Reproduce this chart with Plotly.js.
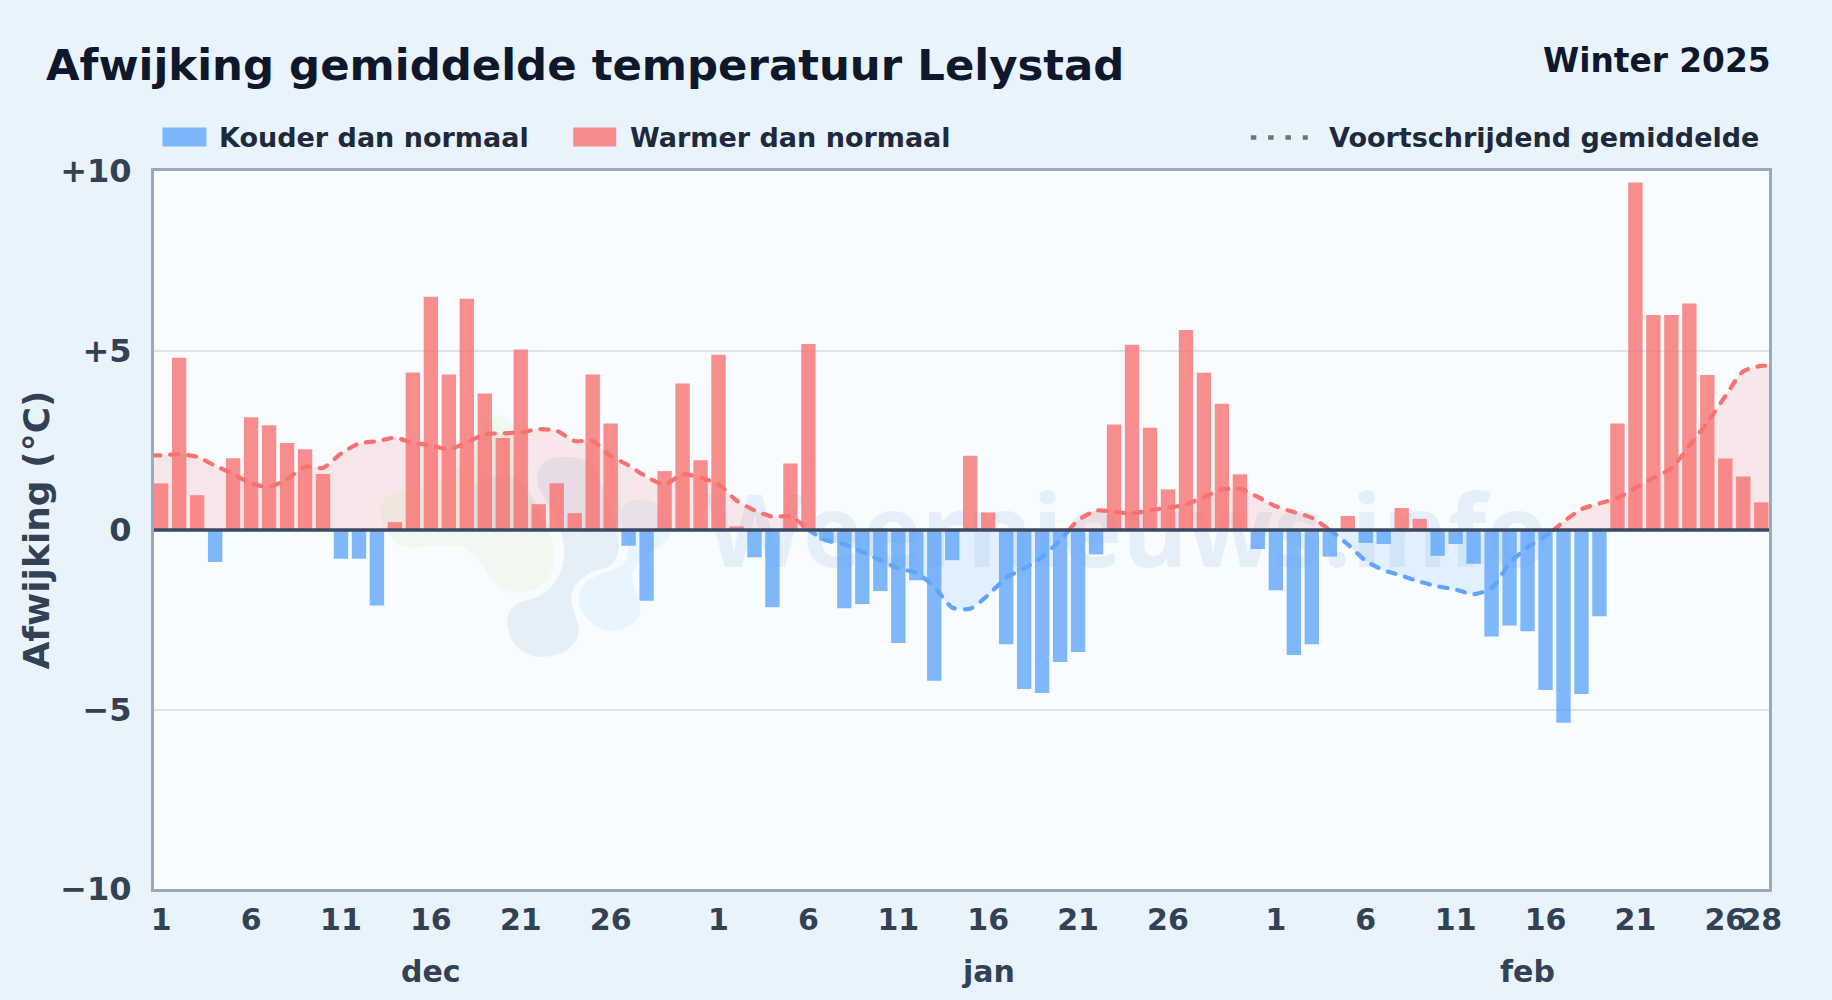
<!DOCTYPE html>
<html>
<head>
<meta charset="utf-8">
<script src="https://cdn.plot.ly/plotly-3.0.1.min.js"></script>
<style>html,body{margin:0;padding:0;background:#e8f3fc}#chart{width:1832px;height:1000px}</style>
</head>
<body>
<div id="chart"></div>
<script>
const decValues = [1.3,4.8,0.97,-0.89,2.0,3.14,2.92,2.42,2.25,1.56,-0.8,-0.8,-2.1,0.22,4.39,6.5,4.33,6.44,3.8,2.56,5.03,0.72,1.3,0.47,4.33,2.97,-0.44,-1.97,1.64,4.08,1.94];
const janValues = [4.88,0.1,-0.76,-2.15,1.85,5.18,-0.3,-2.18,-2.06,-1.7,-3.15,-1.4,-4.2,-0.84,2.07,0.49,-3.18,-4.43,-4.54,-3.68,-3.4,-0.68,2.94,5.16,2.85,1.13,5.57,4.38,3.52,1.55,-0.53];
const febValues = [-1.68,-3.48,-3.18,-0.74,0.39,-0.36,-0.39,0.61,0.31,-0.72,-0.39,-0.94,-2.97,-2.66,-2.82,-4.46,-5.37,-4.57,-2.4,2.97,9.68,5.99,5.99,6.31,4.32,1.99,1.49,0.77];
const dayLabels = ['1','6','11','16','21','26','1','6','11','16','21','26','1','6','11','16','21','26','28'];
const dayTicks = [0,5,10,15,20,25,31,36,41,46,51,56,62,67,72,77,82,87,89];
const monthNames = ['dec','jan','feb'];
const monthCentres = [15,46,76];
const yTicks = [-10,-5,0,5,10];
const yLabels = ['\u221210','\u22125','0','+5','+10'];
const maDays = [-0.5,0,1,2,3,4,5,6,7,8,9,10,11,12,13,14,15,16,17,18,19,20,21,22,23,24,25,26,27,28,29,30,31,32,33,34,35,36,37,38,39,40,41,42,43,44,45,46,47,48,49,50,50.5,51,52,53,54,55,56,57,58,59,60,61,62,63,64,65,66,67,68,69,70,71,72,73,74,75,76,77,77.45,78,79,80,81,82,83,84,85,86,87,88,89,89.5];
const maValues = [2.08,2.08,2.11,2.04,1.79,1.56,1.3,1.2,1.42,1.76,1.73,2.13,2.41,2.47,2.57,2.43,2.36,2.25,2.44,2.67,2.69,2.72,2.81,2.76,2.48,2.48,2.06,1.8,1.48,1.27,1.55,1.46,1.27,0.82,0.55,0.37,0.38,0,-0.29,-0.4,-0.61,-0.84,-1.07,-1.19,-1.58,-2.16,-2.19,-1.81,-1.33,-1.07,-0.75,-0.29,0,0.27,0.54,0.51,0.46,0.55,0.62,0.71,0.92,1.13,1.15,0.92,0.66,0.5,0.34,0,-0.4,-0.86,-1.12,-1.27,-1.44,-1.57,-1.66,-1.79,-1.62,-0.93,-0.48,-0.17,0,0.23,0.58,0.74,0.89,1.17,1.45,1.72,2.35,2.99,3.73,4.42,4.57,4.57];

const values = decValues.concat(janValues, febValues);
const days = values.map((v, i) => i);
const warmDays = days.filter(i => values[i] >= 0);
const coldDays = days.filter(i => values[i] < 0);

const RED = '#f87171', BLUE = '#60a5fa';
const traces = [
  {type:'bar', name:'Kouder dan normaal', x:coldDays, y:coldDays.map(i=>values[i]), width:0.8, marker:{color:'rgba(96,165,250,0.8)'}, showlegend:false, hoverinfo:'skip'},
  {type:'bar', name:'Warmer dan normaal', x:warmDays, y:warmDays.map(i=>values[i]), width:0.8, marker:{color:'rgba(248,113,113,0.8)'}, showlegend:false, hoverinfo:'skip'}
];
let segX = [], segY = [];
function flush(){
  if(segX.length < 2) return;
  const warm = segY.some(v => v > 0);
  traces.push({type:'scatter', mode:'lines', name:'Voortschrijdend gemiddelde', x:segX, y:segY,
    line:{color:warm?RED:BLUE, width:4.2, shape:'spline', smoothing:0.7, dash:'8px,10px'},
    fill:'tozeroy', fillcolor:warm?'rgba(248,113,113,0.15)':'rgba(96,165,250,0.15)',
    showlegend:false, hoverinfo:'skip'});
}
maDays.forEach((d, i) => {
  segX.push(d); segY.push(maValues[i]);
  if(maValues[i] === 0){ flush(); segX = [d]; segY = [0]; }
});
flush();

const W = 1832, H = 1000, L = 153.5, R = 1769.5, T = 170.5, B = 889.5;
const px = v => (v - L) / (R - L);
const py = v => 1 - (v - T) / (B - T);
const zoomPath = s => s.replace(/(-?\d+) (-?\d+)/g, (m,a,b) => (a/3).toFixed(1)+' '+(-b/3).toFixed(1));
function blob(path, color){
  return {type:'path', layer:'below', xref:'paper', yref:'paper', xsizemode:'pixel', ysizemode:'pixel',
    xanchor:px(370), yanchor:py(410), path:zoomPath(path), fillcolor:color, line:{width:0}};
}
const shapes = [
  blob('M 30 300 C 30 260 70 240 110 240 C 200 230 290 170 330 90 C 340 30 380 0 410 25 C 440 50 420 100 430 140 C 450 230 480 260 520 340 C 560 400 560 470 530 510 C 500 545 430 560 395 535 C 350 505 340 450 290 415 C 240 395 180 410 120 412 C 70 410 30 350 30 300 Z','rgba(190,230,150,0.14)'),
  blob('M 410 640 C 415 700 460 740 510 740 C 570 740 625 710 625 660 C 625 620 595 590 605 550 C 615 510 660 480 700 475 C 740 465 750 420 745 390 C 730 310 700 250 680 180 C 660 140 580 130 530 150 C 490 170 495 230 520 260 C 560 320 590 400 580 450 C 570 520 520 560 470 570 C 430 578 410 600 410 640 Z','rgba(100,145,200,0.12)'),
  blob('M 310 230 C 340 190 440 180 470 230 C 500 290 530 330 540 360 L 310 360 Z','rgba(100,145,200,0.10)'),
  blob('M 630 540 C 650 500 700 490 750 470 C 790 440 770 390 750 330 C 740 280 790 260 840 270 C 890 290 910 350 895 385 C 870 420 790 440 785 500 C 790 540 815 570 810 610 C 790 660 720 675 680 650 C 640 620 615 590 630 540 Z','rgba(96,175,250,0.10)'),
  {type:'rect', layer:'below', xref:'paper', yref:'paper', x0:px(707), x1:px(1548), y0:py(605), y1:py(465),
    line:{width:0}, fillcolor:'rgba(0,0,0,0)',
    label:{text:'Weernieuws.info', textposition:'middle center', font:{family:'Open Sans', size:100, weight:700, color:'rgba(100,150,215,0.12)'}}},
  {type:'line', layer:'above', xref:'paper', yref:'y', x0:0, x1:1, y0:0, y1:0, line:{color:'#3b4a60', width:3.6}},
  {type:'rect', xref:'paper', yref:'paper', x0:px(162), x1:px(206), y0:py(146), y1:py(127), line:{width:0}, fillcolor:'rgba(96,165,250,0.8)'},
  {type:'rect', xref:'paper', yref:'paper', x0:px(573), x1:px(616), y0:py(146), y1:py(127), line:{width:0}, fillcolor:'rgba(248,113,113,0.8)'},
  {type:'line', xref:'paper', yref:'paper', x0:px(1251), x1:px(1308), y0:py(137), y1:py(137), line:{color:'#64748b', width:4.6, dash:'5.5px,11.8px'}}
];

function note(text, x, y, size, color, xanchor, yanchor){
  return {text, xref:'paper', yref:'paper', x:px(x), y:py(y), xanchor, yanchor:yanchor||'middle', showarrow:false,
    font:{family:'DejaVu Sans', size, weight:700, color}};
}
const annotations = [
  note('Winter 2025', 1774, 60, 32.8, '#0f172a', 'right'),
  note('Kouder dan normaal', 217, 136.5, 27, '#1e293b', 'left'),
  note('Warmer dan normaal', 628, 136.5, 27, '#1e293b', 'left'),
  note('Voortschrijdend gemiddelde', 1327.5, 136.5, 27, '#1e293b', 'left')
];
monthNames.forEach((m, i) => {
  annotations.push({text:m, xref:'x', yref:'paper', x:monthCentres[i], y:py(972), xanchor:'center', yanchor:'middle', showarrow:false,
    font:{family:'DejaVu Sans', size:30, weight:700, color:'#334155'}});
});

const layout = {
  width:W, height:H, autosize:false,
  paper_bgcolor:'#e8f3fc', plot_bgcolor:'#f8fcff',
  margin:{l:L, r:W-R, t:T, b:H-B, pad:0},
  barmode:'overlay',
  title:{text:'Afwijking gemiddelde temperatuur Lelystad', x:46/W, xref:'container', xanchor:'left', y:1-65/H, yref:'container', yanchor:'middle',
    font:{family:'DejaVu Sans', size:43.4, weight:700, color:'#0f172a'}},
  xaxis:{range:[-0.4,89.43], tickmode:'array', tickvals:dayTicks, ticktext:dayLabels, tickangle:0, showgrid:false, zeroline:false,
    showline:true, mirror:true, linecolor:'#9aaabd', linewidth:3, ticks:'', ticklabelstandoff:2,
    tickfont:{family:'DejaVu Sans', size:30, weight:700, color:'#334155'}},
  yaxis:{range:[-10,10], tickmode:'array', tickvals:yTicks, ticktext:yLabels, showgrid:true, gridcolor:'#dde4ec', gridwidth:2, zeroline:false,
    showline:true, mirror:true, linecolor:'#9aaabd', linewidth:3, ticks:'', ticklabelstandoff:13,
    tickfont:{family:'DejaVu Sans', size:32, weight:700, color:'#334155'},
    title:{text:'Afwijking (\u00b0C)', standoff:0, font:{family:'DejaVu Sans', size:36, weight:700, color:'#334155'}}},
  shapes, annotations
};
Plotly.newPlot('chart', traces, layout, {displayModeBar:false, staticPlot:true}).then(() => {
  document.querySelectorAll('.scatterlayer path.js-line').forEach(p => p.style.strokeLinecap = 'round');
});
</script>
</body>
</html>
